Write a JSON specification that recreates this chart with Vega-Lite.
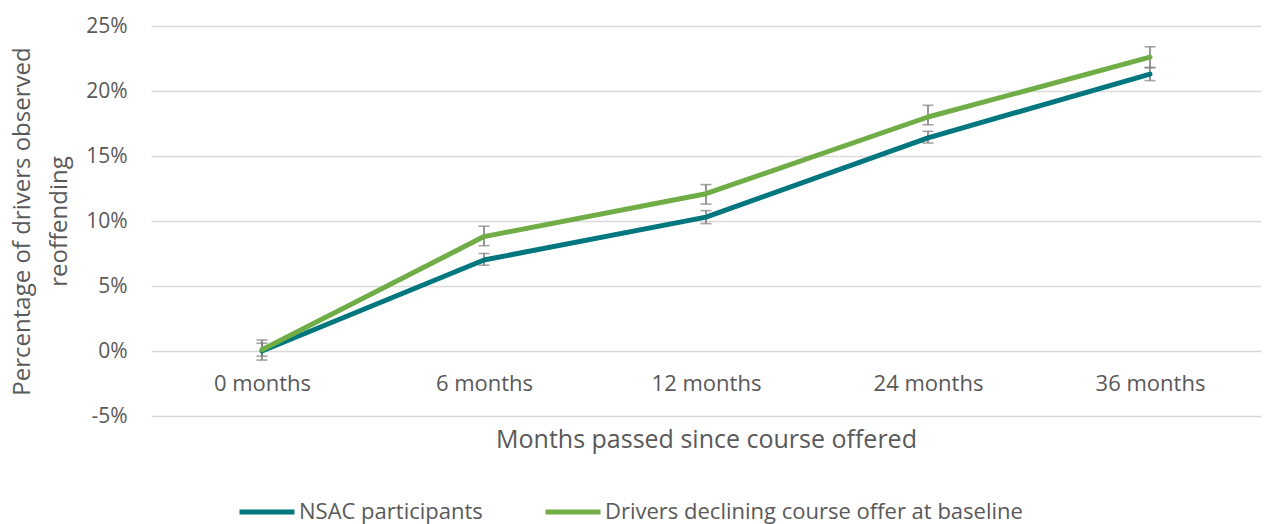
{
  "$schema": "https://vega.github.io/schema/vega-lite/v6.json",
  "width": 1110,
  "height": 390,
  "autosize": {"type": "none"},
  "padding": {"left": 151, "top": 26, "right": 4, "bottom": 108},
  "background": "white",
  "config": {
    "font": "Open Sans",
    "view": {"stroke": null},
    "axis": {"labelColor": "#595959", "titleColor": "#595959", "titleFontWeight": "normal"}
  },
  "data": {
    "values": [
      {"month": "0 months", "group": "NSAC participants", "value": 0.0, "lo": -0.4, "hi": 0.6},
      {"month": "6 months", "group": "NSAC participants", "value": 7.0, "lo": 6.6, "hi": 7.5},
      {"month": "12 months", "group": "NSAC participants", "value": 10.3, "lo": 9.8, "hi": 10.8},
      {"month": "24 months", "group": "NSAC participants", "value": 16.4, "lo": 16.0, "hi": 16.9},
      {"month": "36 months", "group": "NSAC participants", "value": 21.3, "lo": 20.8, "hi": 21.8},
      {"month": "0 months", "group": "Drivers declining course offer at baseline", "value": 0.1, "lo": -0.7, "hi": 0.85},
      {"month": "6 months", "group": "Drivers declining course offer at baseline", "value": 8.8, "lo": 8.1, "hi": 9.6},
      {"month": "12 months", "group": "Drivers declining course offer at baseline", "value": 12.1, "lo": 11.3, "hi": 12.8},
      {"month": "24 months", "group": "Drivers declining course offer at baseline", "value": 18.0, "lo": 17.4, "hi": 18.9},
      {"month": "36 months", "group": "Drivers declining course offer at baseline", "value": 22.6, "lo": 21.8, "hi": 23.4}
    ]
  },
  "encoding": {
    "x": {
      "field": "month",
      "type": "ordinal",
      "sort": ["0 months", "6 months", "12 months", "24 months", "36 months"],
      "scale": {"type": "point", "padding": 0.5},
      "axis": {
        "title": "Months passed since course offered",
        "titleFontSize": 25,
        "titlePadding": 33,
        "labelFontSize": 22,
        "labelAngle": 0,
        "labelPadding": 22,
        "offset": -65,
        "domain": false,
        "ticks": false,
        "grid": false
      }
    }
  },
  "layer": [
    {
      "mark": {"type": "rule", "color": "#7f7f7f", "strokeWidth": 1.6},
      "encoding": {
        "y": {"field": "lo", "type": "quantitative"},
        "y2": {"field": "hi"}
      }
    },
    {
      "mark": {"type": "tick", "color": "#7f7f7f", "thickness": 1.6, "size": 11, "orient": "horizontal"},
      "encoding": {"y": {"field": "lo", "type": "quantitative"}}
    },
    {
      "mark": {"type": "tick", "color": "#7f7f7f", "thickness": 1.6, "size": 11, "orient": "horizontal"},
      "encoding": {"y": {"field": "hi", "type": "quantitative"}}
    },
    {
      "transform": [{"filter": "datum.group === 'NSAC participants'"}],
      "mark": {"type": "line", "strokeWidth": 5, "strokeCap": "round", "strokeJoin": "round"},
      "encoding": {
        "y": {"field": "value", "type": "quantitative"},
        "color": {"field": "group", "type": "nominal"}
      }
    },
    {
      "transform": [{"filter": "datum.group !== 'NSAC participants'"}],
      "mark": {"type": "line", "strokeWidth": 5, "strokeCap": "round", "strokeJoin": "round"},
      "encoding": {
        "y": {
          "field": "value",
          "type": "quantitative",
          "scale": {"domain": [-5, 25], "nice": false, "zero": false},
          "axis": {
            "title": ["Percentage of drivers observed", "reoffending"],
            "titleFontSize": 24,
            "titleLineHeight": 37,
            "titleX": -141,
            "titleY": 195,
            "titleBaseline": "top",
            "titleAngle": -90,
            "titleAlign": "center",
            "values": [-5, 0, 5, 10, 15, 20, 25],
            "labelExpr": "datum.value + '%'",
            "labelFontSize": 21,
            "labelPadding": 24,
            "ticks": false,
            "domain": false,
            "grid": true,
            "gridColor": "#d9d9d9",
            "gridWidth": 1.3
          }
        },
        "color": {
          "field": "group",
          "type": "nominal",
          "scale": {
            "domain": ["NSAC participants", "Drivers declining course offer at baseline"],
            "range": ["#00777f", "#70ad47"]
          },
          "legend": {
            "title": null,
            "orient": "none",
            "direction": "horizontal",
            "legendX": 86,
            "legendY": 456,
            "symbolType": "stroke",
            "symbolSize": 3025,
            "symbolStrokeWidth": 5,
            "labelFontSize": 22,
            "labelColor": "#595959",
            "labelOffset": 2,
            "columnPadding": 52,
            "labelLimit": 600
          }
        }
      }
    }
  ]
}
